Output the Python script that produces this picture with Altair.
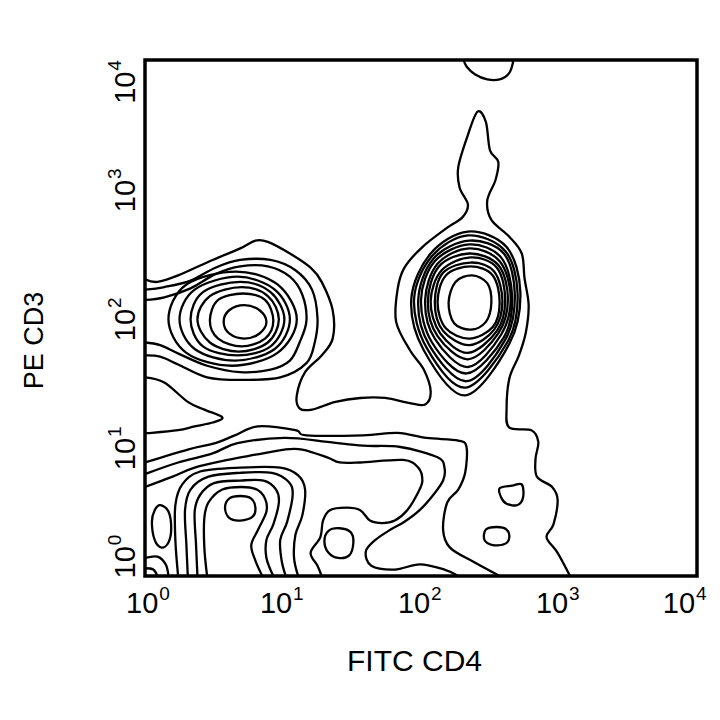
import altair as alt
import pandas as pd

# Axis ticks (log10 decades) and their labels: "10" with a superscript exponent
TICKS = [0, 1, 2, 3, 4]
EXPONENTS = ["0", "1", "2", "3", "4"]
BASE_TEXT = "10"
X_TITLE = "FITC CD4"
Y_TITLE = "PE CD3"

# ---- contour paths, in decades (log10 of intensity) ----
# open contours (run into the frame)
top_arc = [(2.31, 4.00), (2.33, 3.95), (2.39, 3.89), (2.48, 3.85), (2.57, 3.85), (2.64, 3.90), (2.67, 4.00)]
outer = [(0.00, 2.30), (0.09, 2.28), (0.24, 2.33), (0.49, 2.45), (0.69, 2.54), (0.80, 2.60), (0.89, 2.59),
         (1.05, 2.50), (1.20, 2.39), (1.28, 2.28), (1.36, 2.06), (1.36, 1.84), (1.28, 1.71), (1.16, 1.58),
         (1.10, 1.40), (1.12, 1.30), (1.21, 1.29), (1.38, 1.35), (1.56, 1.38), (1.74, 1.38), (1.92, 1.34),
         (2.03, 1.33), (2.07, 1.43), (2.02, 1.60), (1.92, 1.75), (1.82, 1.97), (1.83, 2.22), (1.88, 2.39),
         (2.01, 2.55), (2.19, 2.70), (2.30, 2.78), (2.34, 2.88), (2.28, 3.01), (2.27, 3.17), (2.34, 3.42),
         (2.41, 3.60), (2.47, 3.52), (2.50, 3.30), (2.56, 3.21), (2.54, 3.07), (2.48, 2.91), (2.51, 2.76),
         (2.64, 2.63), (2.73, 2.50), (2.75, 2.31), (2.78, 2.10), (2.76, 1.89), (2.71, 1.71), (2.64, 1.53),
         (2.62, 1.29), (2.64, 1.15), (2.80, 1.13), (2.85, 1.04), (2.83, 0.91), (2.84, 0.77), (2.95, 0.69),
         (2.99, 0.59), (2.96, 0.40), (2.91, 0.30), (2.99, 0.18), (3.08, 0.00)]
left_b = [(0.00, 2.22), (0.14, 2.24), (0.33, 2.29), (0.51, 2.39), (0.69, 2.45), (0.91, 2.45), (1.09, 2.37),
          (1.21, 2.22), (1.25, 2.00), (1.23, 1.81), (1.17, 1.65), (0.98, 1.54), (0.69, 1.52), (0.45, 1.54),
          (0.24, 1.64), (0.11, 1.70), (0.00, 1.71)]
left_c = [(0.00, 2.14), (0.14, 2.16), (0.33, 2.23), (0.51, 2.34), (0.69, 2.40), (0.89, 2.40), (1.05, 2.32),
          (1.14, 2.18), (1.17, 1.98), (1.12, 1.81), (1.05, 1.67), (0.91, 1.60), (0.69, 1.58), (0.45, 1.63),
          (0.25, 1.72), (0.11, 1.79), (0.00, 1.81)]
u_turn = [(0.00, 1.54), (0.14, 1.50), (0.31, 1.35), (0.43, 1.29), (0.56, 1.23), (0.49, 1.19), (0.36, 1.16),
          (0.24, 1.13), (0.05, 1.11), (0.00, 1.11)]
low_a = [(0.00, 0.88), (0.31, 0.98), (0.51, 1.03), (0.65, 1.09), (0.82, 1.16), (1.09, 1.13), (1.17, 1.09),
         (1.58, 1.09), (1.83, 1.11), (2.04, 1.07), (2.27, 1.05), (2.33, 1.00), (2.32, 0.80), (2.27, 0.67),
         (2.19, 0.57), (2.16, 0.36), (2.21, 0.22), (2.38, 0.11), (2.57, 0.00)]
low_b = [(0.00, 0.79), (0.24, 0.88), (0.49, 0.95), (0.67, 1.03), (1.01, 1.07), (1.32, 1.04), (1.58, 1.01),
         (1.85, 1.00), (2.12, 0.92), (2.17, 0.84), (2.16, 0.74), (2.09, 0.63), (1.99, 0.51), (1.88, 0.42),
         (1.78, 0.36), (1.67, 0.28), (1.60, 0.19), (1.64, 0.08), (1.81, 0.05), (1.99, 0.09), (2.17, 0.05),
         (2.27, 0.00)]
low_c = [(0.00, 0.69), (0.20, 0.77), (0.36, 0.84), (0.60, 0.90), (0.80, 0.94), (1.01, 0.98), (1.14, 0.98),
         (1.32, 0.92), (1.41, 0.88), (1.56, 0.88), (1.87, 0.90), (1.98, 0.84), (2.01, 0.74), (1.98, 0.65),
         (1.90, 0.51), (1.81, 0.43), (1.72, 0.41), (1.63, 0.43), (1.56, 0.51), (1.46, 0.53), (1.34, 0.51),
         (1.29, 0.43), (1.27, 0.30), (1.20, 0.18), (1.25, 0.08), (1.28, 0.00)]
mound_4 = [(0.24, 0.00), (0.22, 0.28), (0.22, 0.55), (0.27, 0.71), (0.40, 0.81), (0.69, 0.84), (0.98, 0.84),
           (1.11, 0.78), (1.16, 0.67), (1.14, 0.47), (1.09, 0.32), (1.08, 0.14), (1.11, 0.00)]
mound_3 = [(0.31, 0.00), (0.30, 0.24), (0.29, 0.51), (0.33, 0.67), (0.46, 0.77), (0.69, 0.80), (0.92, 0.80),
           (1.04, 0.73), (1.07, 0.63), (1.03, 0.42), (0.98, 0.28), (0.99, 0.12), (1.02, 0.00)]
mound_2 = [(0.38, 0.00), (0.37, 0.24), (0.36, 0.50), (0.40, 0.63), (0.50, 0.72), (0.69, 0.74), (0.86, 0.74),
           (0.95, 0.67), (0.97, 0.57), (0.93, 0.40), (0.88, 0.28), (0.88, 0.14), (0.93, 0.00)]
mound_1 = [(0.45, 0.00), (0.43, 0.22), (0.43, 0.45), (0.46, 0.57), (0.56, 0.67), (0.70, 0.69), (0.81, 0.67),
           (0.87, 0.60), (0.88, 0.50), (0.82, 0.36), (0.77, 0.24), (0.80, 0.12), (0.85, 0.00)]
corner_1 = [(0.00, 0.14), (0.09, 0.15), (0.15, 0.09), (0.17, 0.00)]
corner_2 = [(0.00, 0.06), (0.06, 0.05), (0.09, 0.00)]

# closed contours (rings)
left_r1 = [(0.66, 2.36), (0.96, 2.26), (1.10, 1.99), (0.96, 1.73), (0.63, 1.63), (0.30, 1.73), (0.17, 1.99), (0.30, 2.26)]
left_r2 = [(0.67, 2.32), (0.94, 2.22), (1.05, 1.99), (0.94, 1.76), (0.65, 1.67), (0.36, 1.76), (0.25, 1.99), (0.36, 2.22)]
left_r3 = [(0.69, 2.28), (0.91, 2.20), (1.01, 1.99), (0.91, 1.78), (0.67, 1.71), (0.42, 1.78), (0.33, 1.99), (0.42, 2.20)]
left_r4 = [(0.70, 2.24), (0.89, 2.17), (0.97, 1.99), (0.89, 1.81), (0.68, 1.74), (0.47, 1.81), (0.38, 1.99), (0.47, 2.17)]
left_r5 = [(0.71, 2.19), (0.87, 2.14), (0.93, 1.98), (0.87, 1.84), (0.70, 1.78), (0.53, 1.84), (0.47, 1.98), (0.53, 2.14)]
left_r6 = [(0.72, 2.10), (0.83, 2.06), (0.88, 1.97), (0.83, 1.88), (0.72, 1.84), (0.61, 1.88), (0.57, 1.97), (0.61, 2.06)]
right_r1 = [(2.34, 2.67), (2.62, 2.55), (2.72, 2.20), (2.64, 1.80), (2.32, 1.40), (2.02, 1.75), (1.93, 2.15), (2.07, 2.50)]
right_r2 = [(2.34, 2.64), (2.61, 2.52), (2.70, 2.19), (2.63, 1.82), (2.32, 1.46), (2.04, 1.77), (1.95, 2.15), (2.08, 2.48)]
right_r3 = [(2.35, 2.60), (2.60, 2.50), (2.68, 2.18), (2.61, 1.83), (2.33, 1.51), (2.06, 1.79), (1.98, 2.14), (2.09, 2.46)]
right_r4 = [(2.35, 2.57), (2.58, 2.47), (2.66, 2.17), (2.60, 1.85), (2.33, 1.57), (2.08, 1.81), (2.00, 2.14), (2.10, 2.44)]
right_r5 = [(2.35, 2.54), (2.57, 2.44), (2.65, 2.16), (2.58, 1.87), (2.34, 1.62), (2.10, 1.84), (2.03, 2.14), (2.12, 2.42)]
right_r6 = [(2.35, 2.50), (2.56, 2.41), (2.63, 2.15), (2.56, 1.88), (2.34, 1.68), (2.12, 1.86), (2.05, 2.13), (2.13, 2.40)]
right_r7 = [(2.36, 2.47), (2.55, 2.39), (2.61, 2.14), (2.55, 1.90), (2.34, 1.73), (2.14, 1.88), (2.07, 2.13), (2.15, 2.37)]
right_r8 = [(2.36, 2.43), (2.53, 2.36), (2.59, 2.13), (2.53, 1.91), (2.35, 1.79), (2.16, 1.90), (2.10, 2.12), (2.16, 2.35)]
right_r9 = [(2.36, 2.40), (2.52, 2.33), (2.57, 2.12), (2.52, 1.93), (2.35, 1.84), (2.18, 1.92), (2.12, 2.12), (2.18, 2.33)]
right_r10 = [(2.37, 2.33), (2.48, 2.27), (2.51, 2.12), (2.47, 1.97), (2.36, 1.91), (2.24, 1.96), (2.20, 2.12), (2.25, 2.28)]
mound_peak = [(0.69, 0.62), (0.77, 0.60), (0.80, 0.53), (0.78, 0.46), (0.69, 0.43), (0.61, 0.45), (0.58, 0.53), (0.61, 0.60)]
edge_loop = [(0.11, 0.55), (0.17, 0.50), (0.19, 0.37), (0.17, 0.26), (0.12, 0.22), (0.07, 0.28), (0.05, 0.42), (0.07, 0.51)]
small_mid = [(1.41, 0.37), (1.49, 0.34), (1.51, 0.26), (1.48, 0.16), (1.40, 0.14), (1.33, 0.18), (1.30, 0.27), (1.33, 0.35)]
small_r1 = [(2.57, 0.68), (2.66, 0.70), (2.73, 0.71), (2.74, 0.61), (2.70, 0.55), (2.62, 0.56), (2.58, 0.61)]
small_r2 = [(2.47, 0.36), (2.55, 0.38), (2.62, 0.36), (2.64, 0.30), (2.61, 0.25), (2.52, 0.24), (2.46, 0.28)]

open_contours = {
    "top_arc": top_arc, "outer": outer, "left_b": left_b, "left_c": left_c, "u_turn": u_turn,
    "low_a": low_a, "low_b": low_b, "low_c": low_c, "mound_4": mound_4, "mound_3": mound_3,
    "mound_2": mound_2, "mound_1": mound_1, "corner_1": corner_1, "corner_2": corner_2,
}
closed_contours = {
    "left_r1": left_r1, "left_r2": left_r2, "left_r3": left_r3, "left_r4": left_r4, "left_r5": left_r5,
    "left_r6": left_r6, "right_r1": right_r1, "right_r2": right_r2, "right_r3": right_r3,
    "right_r4": right_r4, "right_r5": right_r5, "right_r6": right_r6, "right_r7": right_r7,
    "right_r8": right_r8, "right_r9": right_r9, "right_r10": right_r10, "mound_peak": mound_peak,
    "edge_loop": edge_loop, "small_mid": small_mid, "small_r1": small_r1, "small_r2": small_r2,
}


def to_frame(contours):
    rows = []
    for name, pts in contours.items():
        for i, (x, y) in enumerate(pts):
            rows.append({"cid": name, "ord": i, "x": x, "y": y})
    return pd.DataFrame(rows)


open_df = to_frame(open_contours)
closed_df = to_frame(closed_contours)
tick_df = pd.DataFrame({"v": TICKS, "e": EXPONENTS})

FONT = "Liberation Sans"
BASE_SIZE = 29
EXP_SIZE = 19
LINE_W = 2.3
W, H = 552, 516

x_scale = alt.Scale(domain=[0, 4], nice=False, zero=False)
y_scale = alt.Scale(domain=[0, 4], nice=False, zero=False)

# one axis definition shared by every layer, so the merged axis keeps its title
x_axis = alt.Axis(
    labels=False, ticks=False, domain=False, grid=False, title=X_TITLE,
    titleFont=FONT, titleFontSize=30, titleFontWeight="normal", titleColor="black",
    titleX=269, titleY=94, titleAlign="center", titleBaseline="alphabetic",
)
y_axis = alt.Axis(
    labels=False, ticks=False, domain=False, grid=False, title=Y_TITLE,
    titleFont=FONT, titleFontSize=27, titleFontWeight="normal", titleColor="black",
    titleAngle=270, titleX=-103, titleY=280, titleAlign="center", titleBaseline="alphabetic",
)

x_enc = alt.X("x:Q", scale=x_scale, axis=x_axis, title=X_TITLE)
y_enc = alt.Y("y:Q", scale=y_scale, axis=y_axis, title=Y_TITLE)

open_layer = alt.Chart(open_df).mark_line(
    interpolate="cardinal", color="black", strokeWidth=LINE_W, clip=True
).encode(x=x_enc, y=y_enc, detail="cid:N", order="ord:Q")

closed_layer = alt.Chart(closed_df).mark_line(
    interpolate="cardinal-closed", color="black", strokeWidth=LINE_W, clip=True
).encode(x=x_enc, y=y_enc, detail="cid:N", order="ord:Q")

# tick labels: "10" plus a raised exponent; the end labels are kept inside the frame
x_ticks = alt.Chart(tick_df).transform_calculate(xl="clamp(datum.v, 0.03, 3.92)")
x_base = x_ticks.mark_text(
    text=BASE_TEXT, font=FONT, fontSize=BASE_SIZE, align="center", baseline="alphabetic", dx=-7, color="black"
).encode(x=alt.X("xl:Q", scale=x_scale, axis=x_axis, title=X_TITLE), y=alt.value(H + 37))
x_exp = x_ticks.mark_text(
    font=FONT, fontSize=EXP_SIZE, align="left", baseline="alphabetic", dx=10, color="black"
).encode(x=alt.X("xl:Q", scale=x_scale, axis=x_axis, title=X_TITLE), y=alt.value(H + 24), text="e:N")

y_ticks = alt.Chart(tick_df).transform_calculate(yl="clamp(datum.v, 0.16, 3.84)")
y_base = y_ticks.mark_text(
    text=BASE_TEXT, font=FONT, fontSize=BASE_SIZE, angle=270, align="center", baseline="alphabetic",
    dx=-7, color="black"
).encode(y=alt.Y("yl:Q", scale=y_scale, axis=y_axis, title=Y_TITLE), x=alt.value(-10))
y_exp = y_ticks.mark_text(
    font=FONT, fontSize=EXP_SIZE, angle=270, align="left", baseline="alphabetic", dx=10, color="black"
).encode(y=alt.Y("yl:Q", scale=y_scale, axis=y_axis, title=Y_TITLE), x=alt.value(-24), text="e:N")

chart = (
    alt.layer(open_layer, closed_layer, x_base, x_exp, y_base, y_exp)
    .properties(
        width=W, height=H,
        autosize=alt.AutoSizeParams(type="none"),
        padding={"left": 137, "top": 52, "right": 15, "bottom": 136},
        background="white",
    )
    .configure_view(stroke="black", strokeWidth=3.5)
)

chart.save("out.html", embed_options={"renderer": "svg", "actions": False})
